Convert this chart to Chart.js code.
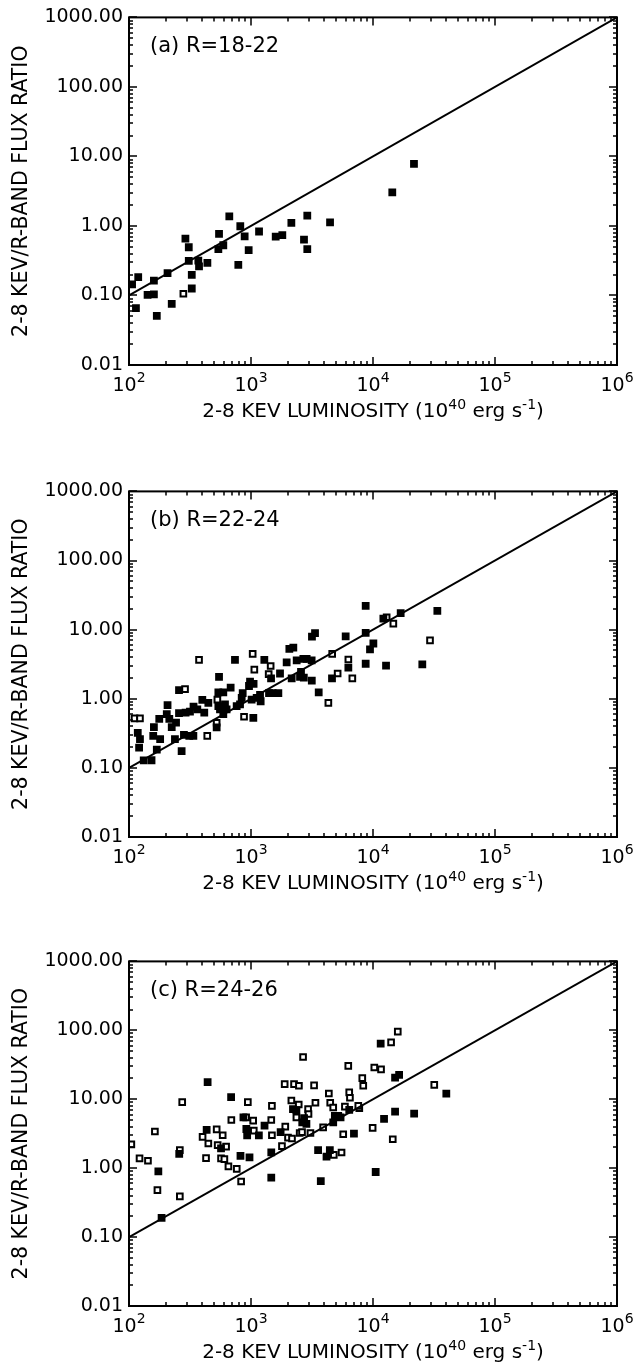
<!DOCTYPE html>
<html>
<head>
<meta charset="utf-8">
<title>2-8 keV / R-band flux ratio vs luminosity</title>
<script src="https://cdn.jsdelivr.net/npm/chart.js@4.4.0/dist/chart.umd.min.js"></script>
<style>
  body { margin: 0; background: #fff; }
  canvas { position: absolute; left: 0; }
</style>
</head>
<body>
<canvas id="panelA" width="638" height="425" style="top:0px"></canvas>
<canvas id="panelB" width="638" height="423" style="top:474px"></canvas>
<canvas id="panelC" width="638" height="422" style="top:944px"></canvas>
<script>
// axis ticks and titles
const xTicks = [1e2, 1e3, 1e4, 1e5, 1e6]
const xTickExp = ['2', '3', '4', '5', '6']
const yTicks = [0.01, 0.1, 1, 10, 100, 1000]
const yTickLabels = ['0.01', '0.10', '1.00', '10.00', '100.00', '1000.00']
// pieces of the x title, [text, superscript?]
const xTitle = [['2-8 KEV LUMINOSITY (10', false], ['40', true], [' erg s', false], ['-1', true], [')', false]]
const yTitle = '2-8 KEV/R-BAND FLUX RATIO'
const panelLabels = ['(a) R=18-22', '(b) R=22-24', '(c) R=24-26']

// reference line, same in every panel
const fitL = [100, 1e6]
const fitR = [0.1, 1000]

// (a) R=18-22
const aFullL = [106, 119, 114, 142, 160, 160, 169, 207, 224, 290, 309, 309, 327, 327, 370, 375, 439, 540, 547, 593,
  664, 787, 817, 887, 957, 1164, 1594, 1806, 2142, 2719, 2893, 2893, 4446, 14390, 21670]
const aFullR = [0.144, 0.183, 0.066, 0.102, 0.104, 0.163, 0.051, 0.209, 0.076, 0.656, 0.494, 0.314, 0.198, 0.126, 0.318, 0.262, 0.294, 0.463, 0.771, 0.528,
  1.37, 0.276, 0.99, 0.708, 0.449, 0.832, 0.70, 0.74, 1.11, 0.635, 1.41, 0.463, 1.13, 3.04, 7.8]
const aOpenL = [279]
const aOpenR = [0.106]

// (b) R=22-24
const bFullL = [118, 123, 121, 160, 158, 177, 180, 169, 132, 153, 207, 204, 214, 224, 243, 238, 270, 257, 282, 312,
  337, 291, 316, 338, 363, 414, 257, 399, 447, 523, 547, 540, 540, 557, 593, 593, 612, 631, 681, 739,
  763, 813, 839, 855, 963, 982, 1050, 1045, 1012, 1113, 1200, 1186, 1286, 1460, 1405, 1506, 1676, 1729, 1960, 2062,
  2223, 2155, 2368, 2523, 2686, 2570, 2710, 2858, 3141, 3150, 3160, 3348, 3589, 4613, 5970, 6280, 8710, 8710, 8710, 9450,
  10070, 12160, 16860, 33680, 12790, 25360]
const bFullR = [0.32, 0.26, 0.197, 0.39, 0.29, 0.51, 0.26, 0.184, 0.128, 0.129, 0.81, 0.60, 0.51, 0.39, 0.45, 0.26, 0.175, 0.62, 0.30, 0.29,
  0.29, 0.63, 0.65, 0.77, 0.70, 0.63, 1.33, 0.96, 0.87, 0.385, 2.08, 1.24, 0.78, 0.70, 1.24, 0.60, 0.83, 0.70, 1.45, 3.66,
  0.78, 0.83, 1.03, 1.21, 1.53, 1.77, 1.64, 0.53, 0.97, 1.03, 0.92, 1.14, 3.66, 1.97, 1.21, 1.21, 1.21, 2.32, 3.36, 5.25,
  5.5, 1.97, 3.58, 2.08, 3.78, 2.45, 2.02, 3.78, 3.58, 1.83, 7.9, 8.9, 1.24, 1.97, 8.0, 2.82, 22, 9.0, 3.21, 5.2,
  6.3, 14.4, 17.3, 18.7, 3.01, 3.14]
const bOpenL = [111, 123, 288, 375, 523, 530, 438, 877, 1032, 1065, 1449, 1396, 4306, 4630, 5130, 6280, 6770, 12940, 14680, 29330]
const bOpenR = [0.52, 0.52, 1.38, 3.66, 0.45, 0.97, 0.29, 0.55, 4.45, 2.64, 2.98, 2.27, 0.87, 4.45, 2.32, 3.7, 1.97, 15.1, 12.2, 7.0]

// (c) R=24-26
const cFullL = [441, 687, 174, 185, 258, 433, 568, 820, 972, 867, 916, 930, 1160, 1291, 1466, 1466, 1749, 2208, 2355, 2630,
  2723, 2846, 3548, 4159, 4428, 3733, 4720, 4868, 5188, 5422, 6385, 6980, 11560, 15170, 16370, 39900, 15170, 21740, 12320, 10520]
const cFullR = [17.7, 10.7, 0.90, 0.19, 1.61, 3.6, 1.94, 1.51, 1.43, 5.45, 3.7, 3.0, 3.0, 4.15, 0.73, 1.70, 3.34, 7.2, 6.95, 4.6,
  5.3, 4.4, 1.83, 1.47, 1.83, 0.65, 4.6, 5.75, 5.75, 5.45, 7.0, 3.16, 64.1, 20.6, 22.5, 12.1, 6.6, 6.2, 5.2, 0.88]
const cOpenL = [104.5, 122, 143, 163, 171, 273, 261, 261, 401, 428, 447, 523, 533, 586, 625, 568, 605, 653, 764, 830,
  690, 942, 912, 1042, 1054, 1484, 1466, 1484, 1794, 1910, 2010, 2168, 1888, 2253, 2470, 2142, 2461, 2355, 2506, 2620,
  3070, 3289, 2672, 2938, 2960, 3374, 3902, 4346, 4460, 4720, 4770, 5522, 5700, 5885, 6270, 6385, 6470, 7720, 7575, 8170,
  8320, 15960, 14070, 10250, 11640, 31780, 9930, 14520]
const cOpenR = [2.21, 1.39, 1.28, 3.4, 0.48, 9.1, 1.83, 0.39, 2.84, 1.40, 2.28, 3.65, 2.16, 3.0, 2.05, 1.39, 1.35, 1.06, 0.975, 0.64,
  5.0, 9.1, 5.45, 4.9, 3.5, 8.0, 5.0, 3.0, 2.09, 4.0, 2.77, 2.69, 16.6, 16.6, 15.7, 9.6, 8.4, 5.45, 3.24, 3.34,
  3.24, 15.9, 41, 7.2, 6.1, 8.9, 3.9, 12.1, 8.9, 7.6, 1.56, 1.69, 3.1, 7.8, 30.5, 12.6, 10.5, 7.4, 8.0, 20.2,
  15.7, 95.9, 67.0, 28.9, 27.1, 16.2, 3.85, 2.63]

const FONT = "'DejaVu Sans', sans-serif"
Chart.defaults.font.family = FONT
Chart.defaults.color = '#000'

function toPoints(xs, ys) {
  return xs.map((x, i) => ({ x: x, y: ys[i] }))
}

// text with superscripts, centred on cx, baseline at y
function drawSup(ctx, parts, cx, y, size, supSize, rise) {
  let widths = parts.map(p => {
    ctx.font = (p[1] ? supSize : size) + 'px ' + FONT
    return ctx.measureText(p[0]).width
  })
  let x = cx - widths.reduce((s, w) => s + w, 0) / 2
  parts.forEach((p, i) => {
    ctx.font = (p[1] ? supSize : size) + 'px ' + FONT
    ctx.fillText(p[0], x, p[1] ? y - rise : y)
    x += widths[i]
  })
}

// box round the plot, inward log ticks on all four sides, x labels, panel label
const framePlugin = {
  id: 'panelFrame',
  afterDraw(chart, args, opts) {
    const { ctx, chartArea: a, scales } = chart
    ctx.save()
    ctx.strokeStyle = '#000'
    ctx.lineWidth = 2
    ctx.strokeRect(a.left, a.top, a.right - a.left, a.bottom - a.top)

    ctx.lineWidth = 1.5
    ctx.beginPath()
    for (let d = 2; d <= 6; d++) {
      for (let m = 1; m <= 9; m++) {
        if (d === 6 && m > 1) break
        let px = Math.round(scales.x.getPixelForValue(m * Math.pow(10, d)))
        let len = m === 1 ? 8 : 4
        ctx.moveTo(px, a.bottom); ctx.lineTo(px, a.bottom - len)
        ctx.moveTo(px, a.top); ctx.lineTo(px, a.top + len)
      }
    }
    for (let d = -2; d <= 3; d++) {
      for (let m = 1; m <= 9; m++) {
        if (d === 3 && m > 1) break
        let py = Math.round(scales.y.getPixelForValue(m * Math.pow(10, d)))
        let len = m === 1 ? 8 : 4
        ctx.moveTo(a.left, py); ctx.lineTo(a.left + len, py)
        ctx.moveTo(a.right, py); ctx.lineTo(a.right - len, py)
      }
    }
    ctx.stroke()

    ctx.fillStyle = '#000'
    ctx.textAlign = 'left'
    ctx.textBaseline = 'alphabetic'
    xTicks.forEach((v, i) => {
      drawSup(ctx, [['10', false], [xTickExp[i], true]], scales.x.getPixelForValue(v), a.bottom + 26, 19, 14, 9)
    })
    drawSup(ctx, xTitle, (a.left + a.right) / 2, a.bottom + 52, 20, 14, 8)

    ctx.font = '21px ' + FONT
    ctx.textBaseline = 'middle'
    ctx.fillText(opts.label, a.left + 21, a.top + 29)
    ctx.restore()
  }
}

function makePanel(id, label, fullL, fullR, openL, openR) {
  let ctx = document.getElementById(id).getContext('2d')
  return new Chart(ctx, {
    type: 'scatter',
    data: {
      datasets: [
        {
          data: toPoints(fitL, fitR),
          showLine: true,
          borderColor: '#000',
          borderWidth: 2,
          pointRadius: 0
        },
        {
          data: toPoints(fullL, fullR),
          pointStyle: 'rect',
          pointRadius: 5.5,
          backgroundColor: '#000',
          borderWidth: 0
        },
        {
          data: toPoints(openL, openR),
          pointStyle: 'rect',
          pointRadius: 4,
          backgroundColor: '#fff',
          borderColor: '#000',
          borderWidth: 2
        }
      ]
    },
    options: {
      responsive: false,
      animation: false,
      events: [],
      layout: { padding: { top: 10, right: 21, bottom: 0, left: 0 } },
      plugins: {
        legend: { display: false },
        tooltip: { enabled: false },
        panelFrame: { label: label }
      },
      scales: {
        x: {
          type: 'logarithmic',
          min: 100,
          max: 1e6,
          afterBuildTicks: s => { s.ticks = xTicks.map(v => ({ value: v })) },
          afterFit: s => { s.height = 60 },
          grid: { display: false, drawTicks: false },
          border: { display: false },
          ticks: { display: false },
          title: { display: false }
        },
        y: {
          type: 'logarithmic',
          min: 0.01,
          max: 1000,
          afterBuildTicks: s => { s.ticks = yTicks.map(v => ({ value: v })) },
          afterFit: s => { s.width = 129 },
          grid: { display: false, drawTicks: false },
          border: { display: false },
          ticks: {
            callback: (v, i) => yTickLabels[i],
            padding: 6,
            autoSkip: false,
            font: { size: 19 }
          },
          title: { display: true, text: yTitle, font: { size: 20.5 }, padding: { top: 9, bottom: 0 } }
        }
      }
    },
    plugins: [framePlugin]
  })
}

makePanel('panelA', panelLabels[0], aFullL, aFullR, aOpenL, aOpenR)
makePanel('panelB', panelLabels[1], bFullL, bFullR, bOpenL, bOpenR)
makePanel('panelC', panelLabels[2], cFullL, cFullR, cOpenL, cOpenR)
</script>
</body>
</html>
